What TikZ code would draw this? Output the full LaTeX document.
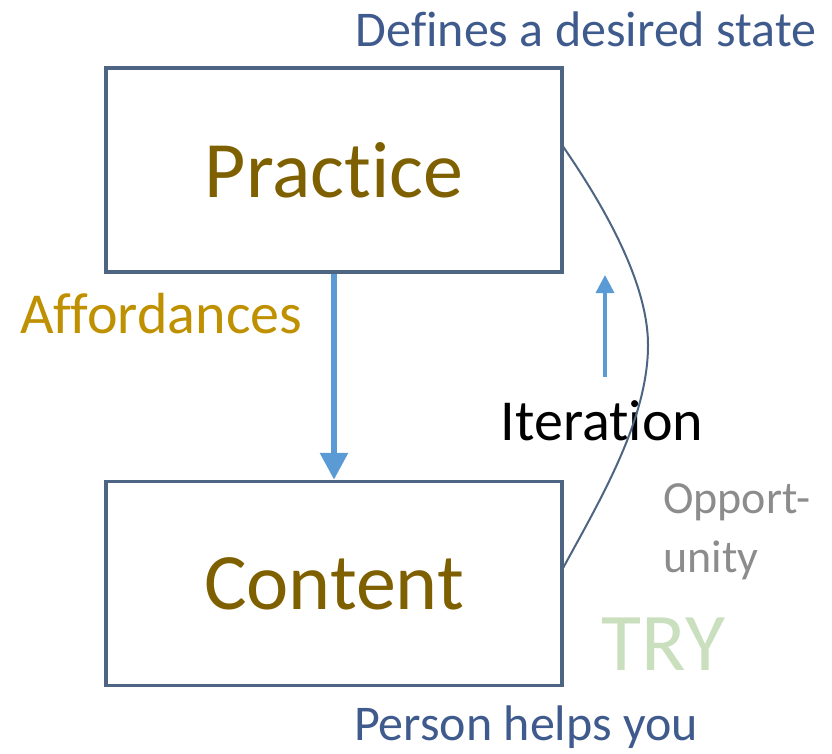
\documentclass[tikz,border=0pt]{standalone}
\usepackage{fontspec}
\setmainfont{Carlito}[Ligatures=NoCommon]
\usetikzlibrary{arrows.meta}
\definecolor{boxline}{HTML}{4D6582}
\definecolor{titlebrown}{HTML}{7F6000}
\definecolor{gold}{HTML}{BF9000}
\definecolor{notes}{HTML}{3F5A8C}
\definecolor{arrowblue}{HTML}{5B9BD5}
\definecolor{trygreen}{HTML}{C9DFBE}
\definecolor{oppgray}{HTML}{8C8C8C}
\tikzset{
  concept/.style={draw=boxline, line width=3.5pt, inner sep=0pt,
    minimum width=456pt, minimum height=204pt, text=titlebrown,
    font=\fontsize{80}{96}\selectfont},
  note/.style={inner sep=0pt, text=notes, font=\fontsize{50}{60}\selectfont},
  bigarrow/.style={draw=arrowblue, line width=6pt,
    -{Triangle[length=27pt,width=27pt]}},
  smallarrow/.style={draw=arrowblue, line width=3.5pt,
    -{Triangle[length=18pt,width=18pt]}},
  loop/.style={draw=boxline, line width=2pt}
}
\begin{document}
\begin{tikzpicture}[x=1pt,y=-1pt]
\useasboundingbox (0,0) rectangle (832,753);
\node[concept] (practice) at (334,170) {Practice};
\node[concept] (content) at (334,583.5) {Content};
\node[note, anchor=base] (defines) at (586,46) {Defines a desired state};
\node[note, anchor=base] (person) at (526,740) {Person helps you};
\node[inner sep=0pt, anchor=base west, text=gold, font=\fontsize{58}{70}\selectfont] (afford) at (20,333) {Affordances};
\node[inner sep=0pt, anchor=base, text=black, font=\fontsize{58}{70}\selectfont] (iter) at (602,440) {Iteration};
\node[inner sep=0pt, anchor=base west, text=oppgray, font=\fontsize{46}{59}\selectfont] (opp1) at (663,513) {Opport-};
\node[inner sep=0pt, anchor=base west, text=oppgray, font=\fontsize{46}{59}\selectfont] (opp2) at (663,572) {unity};
\node[inner sep=0pt, anchor=base, text=trygreen, font=\fontsize{82}{98}\selectfont] (try) at (663.5,670) {TRY};
\coordinate (itbot) at (605,377);
\coordinate (ittop) at (605,275);
\draw[bigarrow] (practice.south) -- (content.north);
\draw[smallarrow] (itbot) -- (ittop);
\coordinate (c1) at (562,145);
\coordinate (cpeak) at (648,345);
\coordinate (c2) at (562,570);
\draw[loop] (c1) .. controls (600,200) and (648,280) .. (cpeak)
  .. controls (648,420) and (600,500) .. (c2);
\end{tikzpicture}
\end{document}
